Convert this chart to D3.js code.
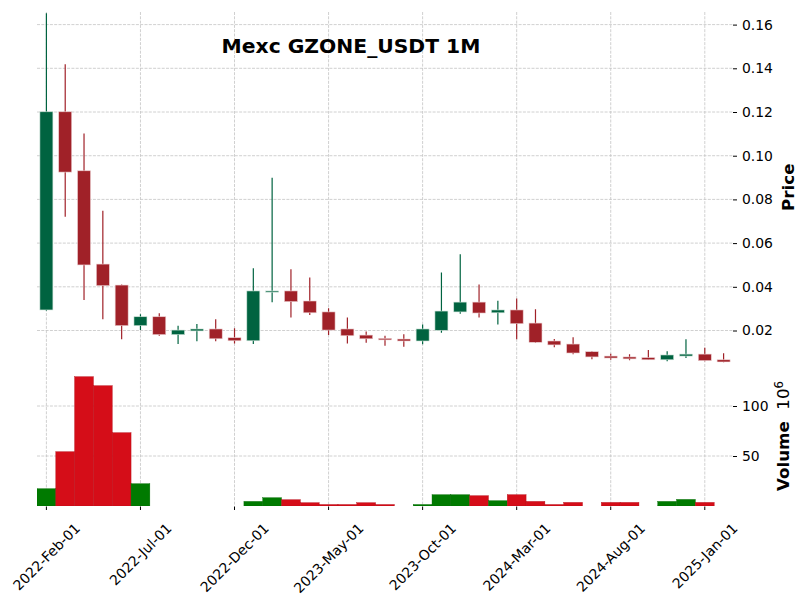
<!DOCTYPE html>
<html>
<head>
<meta charset="utf-8">
<script src="https://cdn.jsdelivr.net/npm/d3@7"></script>
<style>
  html, body { margin: 0; padding: 0; background: #fff; }
  svg { display: block; font-family: "DejaVu Sans", sans-serif; }
  text { white-space: pre; }
</style>
</head>
<body>
<svg id="chart" width="806" height="600"></svg>
<script>
// ---------------- data ----------------
const dates = [
  "2022-02-01","2022-03-01","2022-04-01","2022-05-01","2022-06-01","2022-07-01",
  "2022-08-01","2022-09-01","2022-10-01","2022-11-01","2022-12-01","2023-01-01",
  "2023-02-01","2023-03-01","2023-04-01","2023-05-01","2023-06-01","2023-07-01",
  "2023-08-01","2023-09-01","2023-10-01","2023-11-01","2023-12-01","2024-01-01",
  "2024-02-01","2024-03-01","2024-04-01","2024-05-01","2024-06-01","2024-07-01",
  "2024-08-01","2024-09-01","2024-10-01","2024-11-01","2024-12-01","2025-01-01",
  "2025-02-01"
];
const opens = [
  0.0294,0.1201,0.0931,0.0504,0.0408,0.0222,0.0263,0.0181,0.0198,0.0207,0.0167,0.0153,
  0.0378,0.0381,0.0335,0.0285,0.0207,0.0179,0.0164,0.0161,0.0152,0.0201,0.0285,0.0330,
  0.0281,0.0294,0.0234,0.0152,0.0138,0.0103,0.0083,0.0079,0.0076,0.0066,0.0083,0.0092,
  0.0066
];
const highs = [
  0.1652,0.1418,0.1102,0.0748,0.0411,0.0274,0.0279,0.0222,0.0230,0.0251,0.0210,0.0485,
  0.0899,0.0480,0.0443,0.0302,0.0260,0.0195,0.0176,0.0183,0.0228,0.0465,0.0549,0.0411,
  0.0336,0.0347,0.0297,0.0161,0.0169,0.0106,0.0094,0.0091,0.0111,0.0105,0.0160,0.0121,
  0.0096
];
const lows = [
  0.0290,0.0721,0.0340,0.0251,0.0160,0.0202,0.0176,0.0138,0.0151,0.0151,0.0141,0.0138,
  0.0329,0.0260,0.0271,0.0179,0.0141,0.0144,0.0130,0.0126,0.0137,0.0190,0.0277,0.0260,
  0.0228,0.0160,0.0143,0.0123,0.0091,0.0068,0.0066,0.0064,0.0066,0.0059,0.0074,0.0059,
  0.0054
];
const closes = [
  0.1201,0.0925,0.0500,0.0405,0.0222,0.0263,0.0181,0.0202,0.0207,0.0162,0.0153,0.0381,
  0.0381,0.0332,0.0281,0.0202,0.0176,0.0162,0.0157,0.0152,0.0207,0.0289,0.0330,0.0280,
  0.0294,0.0231,0.0146,0.0134,0.0097,0.0079,0.0074,0.0070,0.0066,0.0088,0.0092,0.0062,
  0.0056
];
// volume in millions
const volumes = [
  17.3,54.3,129.3,120.3,73.3,22.3,0,0,0,0,0,4.6,
  8.3,6.3,3.3,1.5,1.5,3.3,1.5,0,1.5,11.3,11.3,10.3,
  5.3,11.3,4.6,1.5,3.6,0,3.6,3.6,0,4.6,6.6,3.6,
  0
];
const priceTicks = [0.02,0.04,0.06,0.08,0.10,0.12,0.14,0.16];
const volumeTicks = [50,100];
const xTickIdx = [0,5,10,15,20,25,30,35];
const titleText = "Mexc GZONE_USDT 1M";

// ---------------- layout ----------------
const svg = d3.select("#chart");
const L = 37, R = 733;
const pTop = 12, pBot = 362.5;
const vTop = 364, vBot = 506;
const upC = "#006340", dnC = "#a02128";
const vUp = "#007a00", vDn = "#d50d18";
const gridC = "#c4c4c4";

const x = d3.scaleBand().domain(dates).range([L, R]).padding(0);
const cx = d => x(d) + x.bandwidth() / 2;
const yP = d3.scaleLinear().domain([0.005355, 0.16577]).range([pBot, pTop]);
const yV = d3.scaleLinear().domain([0, 142]).range([vBot, vTop]);

const data = dates.map((d, i) => ({
  d, o: opens[i], h: highs[i], l: lows[i], c: closes[i], v: volumes[i]
}));

svg.append("rect").attr("width", 806).attr("height", 600).attr("fill", "#fff");

const defs = svg.append("defs");
defs.append("clipPath").attr("id", "clipP").append("rect")
  .attr("x", L).attr("y", pTop).attr("width", R - L).attr("height", pBot - pTop);
defs.append("clipPath").attr("id", "clipV").append("rect")
  .attr("x", L).attr("y", vTop).attr("width", R - L).attr("height", vBot - vTop);

// grid
const grid = svg.append("g").attr("stroke", gridC).attr("stroke-width", 0.8)
  .attr("stroke-dasharray", "3,1.3").attr("fill", "none");
priceTicks.forEach(t => grid.append("line").attr("x1", L).attr("x2", R)
  .attr("y1", yP(t)).attr("y2", yP(t)));
volumeTicks.forEach(t => grid.append("line").attr("x1", L).attr("x2", R)
  .attr("y1", yV(t)).attr("y2", yV(t)));
xTickIdx.forEach(i => {
  grid.append("line").attr("x1", cx(dates[i])).attr("x2", cx(dates[i]))
    .attr("y1", pTop).attr("y2", pBot);
  grid.append("line").attr("x1", cx(dates[i])).attr("x2", cx(dates[i]))
    .attr("y1", vTop).attr("y2", vBot);
});

// candles
const bodyW = 13;
const cg = svg.append("g").attr("clip-path", "url(#clipP)");
const cand = cg.selectAll("g.c").data(data).join("g").attr("class", "c");
cand.append("line")
  .attr("x1", d => cx(d.d)).attr("x2", d => cx(d.d))
  .attr("y1", d => yP(d.h)).attr("y2", d => yP(d.l))
  .attr("stroke", d => d.c >= d.o ? upC : dnC).attr("stroke-width", 1.2);
cand.append("rect")
  .attr("x", d => cx(d.d) - bodyW / 2)
  .attr("width", bodyW)
  .attr("y", d => yP(Math.max(d.o, d.c)))
  .attr("height", d => Math.max(1.2, Math.abs(yP(d.o) - yP(d.c))))
  .attr("fill", d => d.c >= d.o ? upC : dnC)
  .attr("stroke", d => d.c >= d.o ? "#cfe3d9" : "#ecd0d2")
  .attr("stroke-width", 0.6);

// volume bars
const vg = svg.append("g").attr("clip-path", "url(#clipV)");
vg.selectAll("rect").data(data.filter(d => d.v > 0)).join("rect")
  .attr("x", d => x(d.d))
  .attr("width", x.bandwidth())
  .attr("y", d => yV(d.v))
  .attr("height", d => yV(0) - yV(d.v))
  .attr("fill", d => d.c >= d.o ? vUp : vDn)
  .attr("stroke", d => d.c >= d.o ? "#006a00" : "#b50b14")
  .attr("stroke-width", 0.4);

// axes
const tickFont = "13.9px";
const pAxis = svg.append("g").attr("transform", `translate(${R},0)`)
  .call(d3.axisRight(yP).tickValues(priceTicks).tickFormat(d3.format(".2f"))
    .tickSize(4).tickPadding(5));
const vAxis = svg.append("g").attr("transform", `translate(${R},0)`)
  .call(d3.axisRight(yV).tickValues(volumeTicks).tickFormat(d3.format("d"))
    .tickSize(4).tickPadding(5));
[pAxis, vAxis].forEach(a => {
  a.select(".domain").remove();
  a.selectAll("text").attr("font-size", tickFont).attr("fill", "#000")
    .attr("font-family", "DejaVu Sans");
  a.selectAll("line").attr("stroke", "#000").attr("stroke-width", 1);
  a.attr("font-size", null).attr("font-family", null);
});

const fmt = d3.timeFormat("%Y-%b-%d");
const parse = d3.timeParse("%Y-%m-%d");
const xg = svg.append("g");
xTickIdx.forEach(i => {
  const d = dates[i], xx = cx(d);
  xg.append("line").attr("x1", xx).attr("x2", xx).attr("y1", vBot + 0.5).attr("y2", vBot + 4)
    .attr("stroke", "#000").attr("stroke-width", 1);
  const t = xg.append("text").text(fmt(parse(d)))
    .attr("font-size", tickFont).attr("fill", "#000")
    .attr("text-anchor", "middle").attr("dominant-baseline", "central");
  const w = t.node().getComputedTextLength();
  const h = 16.3;
  const cy = 520 + (w + h) * Math.SQRT1_2 / 2;
  t.attr("x", xx).attr("y", cy).attr("transform", `rotate(-45,${xx},${cy})`);
});

// title & labels
svg.append("text").attr("x", 351).attr("y", 53).attr("text-anchor", "middle")
  .attr("font-weight", "bold").attr("font-size", "20.3px").attr("fill", "#000")
  .text(titleText);

svg.append("text").attr("transform", `translate(794,${(pTop + pBot) / 2}) rotate(-90)`)
  .attr("text-anchor", "middle").attr("font-weight", "bold").attr("font-size", "16.7px")
  .attr("fill", "#000").text("Price");

const vl = svg.append("text")
  .attr("transform", `translate(789,${(vTop + vBot) / 2 + 1}) rotate(-90)`)
  .attr("text-anchor", "middle").attr("font-size", "16.7px").attr("fill", "#000");
vl.append("tspan").attr("font-weight", "bold").text("Volume  ");
vl.append("tspan").text("10");
vl.append("tspan").attr("font-size", "11.7px").attr("dy", "-6.5").text("6");
</script>
</body>
</html>
